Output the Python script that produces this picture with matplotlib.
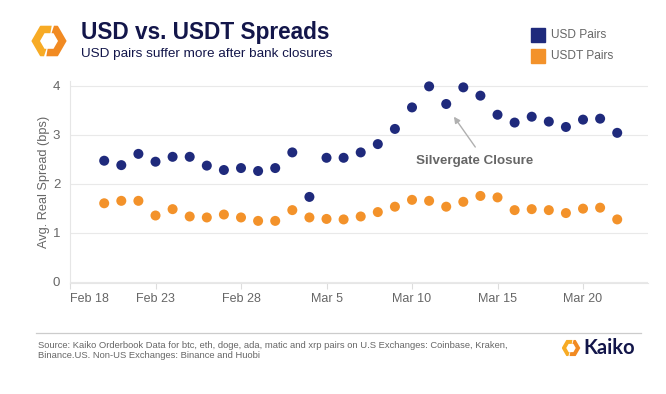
import numpy as np
import pandas as pd
import matplotlib
matplotlib.use("Agg")
import matplotlib.pyplot as plt
import matplotlib.dates as mdates
from matplotlib.patches import Polygon, Rectangle

plt.rcParams['font.family'] = ['Liberation Sans', 'DejaVu Sans']

# daily points, Feb 20 .. Mar 22 2023
dates = pd.date_range("2023-02-20", "2023-03-22", freq="D")
usd_pairs = [2.47, 2.38, 2.61, 2.45, 2.55, 2.55, 2.37, 2.28, 2.32,
             2.26, 2.32, 2.64, 1.73, 2.53, 2.53, 2.64, 2.81, 3.12, 3.56,
             3.99, 3.63, 3.97, 3.80, 3.41, 3.25, 3.37, 3.27, 3.16, 3.31,
             3.33, 3.04]
usdt_pairs = [1.60, 1.65, 1.65, 1.35, 1.48, 1.33, 1.31, 1.37, 1.31,
              1.24, 1.24, 1.46, 1.31, 1.28, 1.27, 1.33, 1.42, 1.53, 1.67,
              1.65, 1.53, 1.63, 1.75, 1.72, 1.46, 1.48, 1.46, 1.40, 1.49,
              1.51, 1.27]
series_names = ["USD Pairs", "USDT Pairs"]
tick_dates = pd.date_range("2023-02-18", "2023-03-20", freq="5D")
tick_labels = [d.strftime("%b ") + str(d.day) for d in tick_dates]
yticks = [0, 1, 2, 3, 4]

BLUE = "#1f2a7c"
ORANGE = "#f3922a"
GREY = "#666666"
NAVY = "#13164a"

fig = plt.figure(figsize=(6.66, 3.94), dpi=100)
W, H = 666, 394


def fx(px):
    return px / W


def fy(py):
    return 1 - py / H


ax = fig.add_axes([fx(70), fy(283), fx(648) - fx(70), fy(81) - fy(283)])
x0 = pd.Timestamp("2023-02-18")
ax.set_xlim(mdates.date2num(x0), mdates.date2num(x0) + 33.8)
ax.set_ylim(-0.03, 4.1)

ax.scatter(dates, usd_pairs, s=52, color=BLUE, edgecolor="none", zorder=3)
ax.scatter(dates, usdt_pairs, s=52, color=ORANGE, edgecolor="none", zorder=3)

ax.set_yticks(yticks)
ax.set_yticklabels([str(v) for v in yticks])
ax.set_xticks(mdates.date2num(tick_dates))
ax.set_xticklabels(tick_labels)
ax.get_xticklabels()[0].set_horizontalalignment("left")
ax.grid(axis="y", color="#e9e9e9", linewidth=0.8)
ax.set_axisbelow(True)
for side in ["top", "right"]:
    ax.spines[side].set_visible(False)
for side in ["left", "bottom"]:
    ax.spines[side].set_color("#e6e6e6")
    ax.spines[side].set_linewidth(0.8)
ax.tick_params(axis="x", colors="#dddddd", length=4, width=0.8,
               labelcolor=GREY, labelsize=9, pad=3)
ax.tick_params(axis="y", length=0, labelcolor=GREY, labelsize=9.5, pad=7)
ax.set_ylabel("Avg. Real Spread (bps)", color=GREY, fontsize=9.2, labelpad=2)

# annotation
ax.annotate("", xy=(mdates.date2num(x0) + 22.45, 3.37),
            xytext=(mdates.date2num(x0) + 23.7, 2.75),
            arrowprops=dict(arrowstyle="-|>", color="#b0b0b0", lw=1.0,
                            mutation_scale=9, shrinkA=0, shrinkB=0))
ax.text(mdates.date2num(x0) + 23.65, 2.47, "Silvergate Closure",
        ha="center", va="center", fontsize=9.6, fontweight="bold",
        color=GREY)

# header
fig.text(fx(81), fy(32), "USD vs. USDT Spreads", fontsize=16.3,
         fontweight="bold", color=NAVY, ha="left", va="center")
fig.text(fx(81), fy(54), "USD pairs suffer more after bank closures",
         fontsize=9.7, color=NAVY, ha="left", va="center")

# legend
for i, (name, col) in enumerate(zip(series_names, [BLUE, ORANGE])):
    yc = 35 + i * 21
    fig.patches.append(Rectangle((fx(531), fy(yc + 7)), fx(14), 14 / H,
                                 color=col, transform=fig.transFigure))
    fig.text(fx(551), fy(yc), name, fontsize=8.6, color=GREY,
             ha="left", va="center")


def kaiko_icon(cx, cy, size):
    # two bracket halves of a hexagon ring, in an equal-aspect axes
    lax = fig.add_axes([fx(cx - size / 2), fy(cy + size / 2),
                        size / W, size / H])
    lax.set_xlim(-1, 1)
    lax.set_ylim(-1, 1)
    lax.axis("off")
    R, r = 0.98, 0.5

    def ring_pt(theta, rad):
        t = np.radians(theta)
        k = np.round((theta - 30) / 60) * 60 + 30
        d = rad * np.cos(np.radians(30)) / np.cos(np.radians(theta - k))
        return d * np.cos(t), d * np.sin(t)

    for a0, a1, col in [(80, 252, "#f7ab25"), (-100, 72, "#f18a22")]:
        th = np.linspace(a0, a1, 80)
        outer = [ring_pt(t, R) for t in th]
        inner = [ring_pt(t, r) for t in th[::-1]]
        lax.add_patch(Polygon(outer + inner, closed=True, color=col, lw=0))


kaiko_icon(49, 41, 36)

# footer
fig.lines.append(plt.Line2D([fx(36), fx(641)], [fy(333), fy(333)],
                            color="#cccccc", lw=0.9,
                            transform=fig.transFigure))
fig.text(fx(38), fy(345), "Source: Kaiko Orderbook Data for btc, eth, doge, "
         "ada, matic and xrp pairs on U.S Exchanges: Coinbase, Kraken,",
         fontsize=6.75, color=GREY, ha="left", va="center")
fig.text(fx(38), fy(356), "Binance.US. Non-US Exchanges: Binance and Huobi",
         fontsize=6.75, color=GREY, ha="left", va="center")
kaiko_icon(571, 348, 19)
fig.text(fx(583), fy(348), "Kaiko", fontsize=14.5, fontweight="bold",
         family=["Lato", "DejaVu Sans"], color=NAVY, ha="left", va="center")

fig.savefig("out.png", dpi=100, facecolor="white")
